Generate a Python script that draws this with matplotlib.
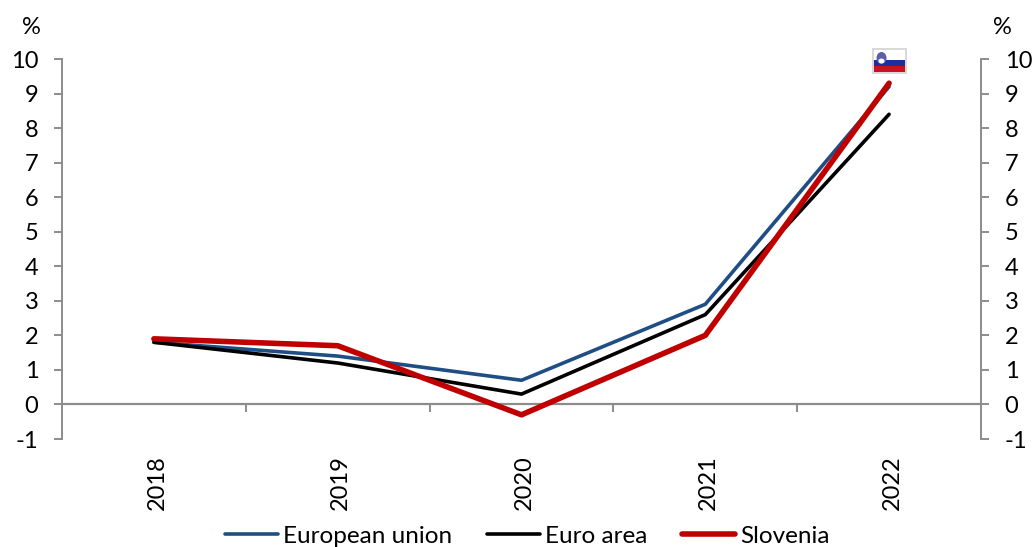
#!/usr/bin/env python3

import matplotlib
matplotlib.use('Agg')
import matplotlib.pyplot as plt
from matplotlib.patches import Rectangle, Ellipse
from matplotlib.transforms import ScaledTranslation

plt.rcParams['font.family'] = ['Lato', 'DejaVu Sans']
plt.rcParams['axes.unicode_minus'] = False

years = ['2018', '2019', '2020', '2021', '2022']
european_union = [1.8, 1.4, 0.7, 2.9, 9.2]
euro_area = [1.8, 1.2, 0.3, 2.6, 8.4]
slovenia = [1.9, 1.7, -0.3, 2.0, 9.3]
y_ticks = list(range(-1, 11))

W, H = 1035, 547
FS = 17
GREY = '#8c8c8c'

fig = plt.figure(figsize=(W / 100, H / 100), dpi=100)
ax = fig.add_axes([62 / W, 1 - 439 / H, 919 / W, 380 / H])
ax.set_xlim(-0.5, 4.5)
ax.set_ylim(-1, 10)

x = list(range(len(years)))
ax.plot(x, european_union, color='#1f4e84', lw=2.6, label='European union', solid_capstyle='round')
ax.plot(x, euro_area, color='black', lw=2.6, label='Euro area', solid_capstyle='round')
ax.plot(x, slovenia, color='#c00000', lw=4, label='Slovenia', solid_capstyle='round')

# left and right value axes
ax.set_yticks(y_ticks)
ax.tick_params(axis='y', length=6, width=1.4, color=GREY, labelsize=FS, pad=11,
               left=True, right=True, labelleft=True, labelright=True)
for side in ['left', 'right']:
    ax.spines[side].set_color(GREY)
    ax.spines[side].set_linewidth(1.4)
for side in ['top', 'bottom']:
    ax.spines[side].set_visible(False)

# category axis runs along zero, ticks between categories
ax.axhline(0, color=GREY, lw=1.6, zorder=1)
for b in [0.5, 1.5, 2.5, 3.5]:
    ax.plot([b, b], [0, -0.2], color=GREY, lw=1.4, zorder=1)
ax.set_xticks(x)
ax.set_xticklabels(years, rotation=90, fontsize=FS)
ax.tick_params(axis='x', length=0, pad=11.5)
# nudge the rotated year labels a little to the right
shift = ScaledTranslation(3 / 100, 0, fig.dpi_scale_trans)
for lab in ax.get_xticklabels():
    lab.set_transform(lab.get_transform() + shift)

fig.text(31 / W, 1 - 27 / H, '%', fontsize=FS, ha='center', va='center')
fig.text(1002 / W, 1 - 27 / H, '%', fontsize=FS, ha='center', va='center')

# Slovenian flag above the last point
def px_rect(x0, y0, w, h, **kw):
    fig.add_artist(Rectangle((x0 / W, 1 - (y0 + h) / H), w / W, h / H,
                             transform=fig.transFigure, **kw))

px_rect(872, 48, 35, 26, facecolor='#d9d9d9', edgecolor='none')
px_rect(874, 50, 31, 10, facecolor='white', edgecolor='none')
px_rect(874, 60, 31, 6, facecolor='#1c2f9e', edgecolor='none')
px_rect(874, 66, 31, 6, facecolor='#c8141e', edgecolor='none')
fig.add_artist(Ellipse((881.5 / W, 1 - 58 / H), 10 / W, 12 / H, transform=fig.transFigure,
                       facecolor='#5a5fa8', edgecolor='none'))
fig.add_artist(Ellipse((881.5 / W, 1 - 61 / H), 6 / W, 5 / H, transform=fig.transFigure,
                       facecolor='white', edgecolor='none'))

fig.legend(loc='center', bbox_to_anchor=(527 / W, 1 - 536 / H), ncol=3, frameon=False,
           fontsize=17.5, handlelength=2.18, handletextpad=0.2, columnspacing=1.44,
           borderpad=0, borderaxespad=0)

fig.savefig('out.png', dpi=100)
